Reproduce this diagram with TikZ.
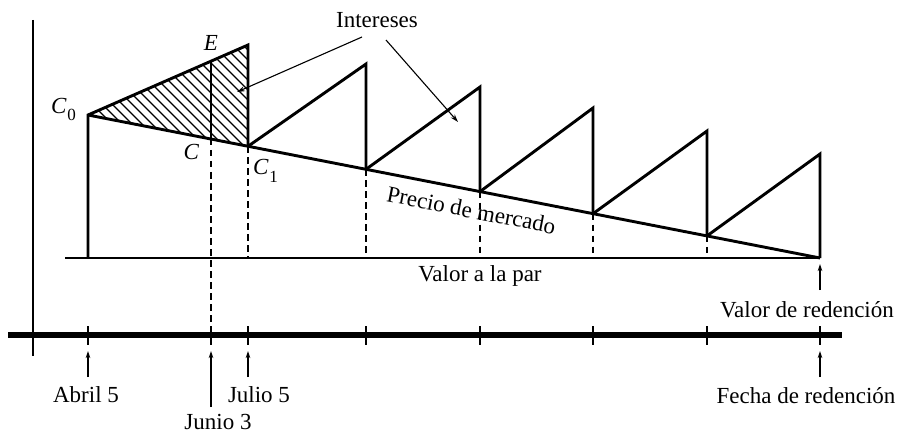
\documentclass[tikz,border=0pt]{standalone}
\usepackage{fontspec}
\setmainfont{Liberation Serif}
\usetikzlibrary{arrows.meta,calc}
\begin{document}
\begin{tikzpicture}[x=1pt,y=-1pt,
  lbl/.style={font=\fontsize{23}{27}\selectfont, inner sep=0pt},
  mainline/.style={line width=2.9pt, line join=miter},
  axisline/.style={line width=2.9pt},
  baseline axis/.style={line width=5.4pt},
  tickline/.style={line width=2.7pt},
  dashline/.style={line width=2.8pt, dash pattern=on 6.5pt off 4.5pt},
  hatchline/.style={line width=1.1pt},
  pointer/.style={line width=1.1pt, -{Stealth[length=8pt,width=5pt]}},
  uparrow/.style={line width=1.1pt, -{Stealth[length=7pt,width=4.5pt]}}
]
\useasboundingbox (0,0) rectangle (897,433);

% key points
\coordinate (C0) at (88,115);
\coordinate (E) at (248,45);
\coordinate (C1) at (248,146.3);
\coordinate (C) at (211,139);
\coordinate (CE) at (211,61.2);
\coordinate (P2) at (366,64);   \coordinate (V2) at (366,169.3);
\coordinate (P3) at (480,87);   \coordinate (V3) at (480,191.6);
\coordinate (P4) at (593,108);  \coordinate (V4) at (593,213.7);
\coordinate (P5) at (707,131);  \coordinate (V5) at (707,235.9);
\coordinate (P6) at (820,154);  \coordinate (R) at (820,258);
\coordinate (PL) at (65,258);

% hatching
\begin{scope}
  \clip (C0) -- (E) -- (C1) -- cycle;
  \foreach \i in {0,...,32} \draw[hatchline] (-62+\i*10,20) -- ++(170,170);
\end{scope}

% axes
\draw[axisline] (33,20) -- (33,356);
\draw[baseline axis] (8,335) -- (842,335);
\foreach \x in {88,211,248,366,480,593,707,820}
  \draw[tickline] (\x,326) -- (\x,345);

% parity line
\draw[mainline] (PL) -- (R);
% market price line
\draw[mainline] (C0) -- (R);
% sawtooth
\draw[mainline] (88,258) -- (C0) -- (E) -- (C1);
\draw[mainline] (C1) -- (P2) -- (V2);
\draw[mainline] (V2) -- (P3) -- (V3);
\draw[mainline] (V3) -- (P4) -- (V4);
\draw[mainline] (V4) -- (P5) -- (V5);
\draw[mainline] (V5) -- (P6) -- (R);
\draw[mainline] (C) -- (CE);

% dashed verticals
\draw[dashline] (C) -- (211,335);
\draw[dashline] (C1) -- (248,258);
\draw[dashline] (V2) -- (366,258);
\draw[dashline] (V3) -- (480,258);
\draw[dashline] (V4) -- (593,258);
\draw[dashline] (V5) -- (707,258);

% labels
\node[lbl, anchor=base] (lE) at (211,51) {\textit{E}};
\node[lbl, anchor=base west] (lC0) at (51,114) {\textit{C}\kern0.5pt\raisebox{-7pt}{\fontsize{17}{17}\selectfont 0}};
\node[lbl, anchor=base] (lC) at (191.5,160) {\textit{C}};
\node[lbl, anchor=base west] (lC1) at (253,175) {\textit{C}\kern0.5pt\raisebox{-8pt}{\fontsize{17}{17}\selectfont 1}};
\node[lbl, anchor=base] (int) at (377,28) {Intereses};
\node[lbl, rotate=-11.05, anchor=north] (pm) at (473,202) {Precio de mercado};
\node[lbl, anchor=base] (par) at (480,281) {Valor a la par};
\node[lbl, anchor=base] (vr) at (807,317) {Valor de redención};
\node[lbl, anchor=base] (fr) at (806,403) {Fecha de redención};
\node[lbl, anchor=base] (ab) at (86,402) {Abril 5};
\node[lbl, anchor=base] (jl) at (259,402) {Julio 5};
\node[lbl, anchor=base, text depth=0pt] (jn) at (218,429.5) {Junio 3};

% interest pointers
\coordinate (i1s) at (362,37);
\coordinate (i1e) at (237,92);
\coordinate (i2s) at (386,40);
\coordinate (i2e) at (458,122);
\draw[pointer] (i1s) -- (i1e);
\draw[pointer] (i2s) -- (i2e);

% date arrows
\coordinate (a1) at (88,377);   \coordinate (a1t) at (88,351);
\coordinate (a2) at (248,377);  \coordinate (a2t) at (248,351);
\coordinate (a3) at (211,407);  \coordinate (a3t) at (211,351);
\coordinate (a4) at (820,377);  \coordinate (a4t) at (820,351);
\coordinate (a5) at (820,290);  \coordinate (a5t) at (820,264);
\draw[uparrow] (a1) -- (a1t);
\draw[uparrow] (a2) -- (a2t);
\draw[uparrow] (a3) -- (a3t);
\draw[uparrow] (a4) -- (a4t);
\draw[uparrow] (a5) -- (a5t);
\end{tikzpicture}
\end{document}
